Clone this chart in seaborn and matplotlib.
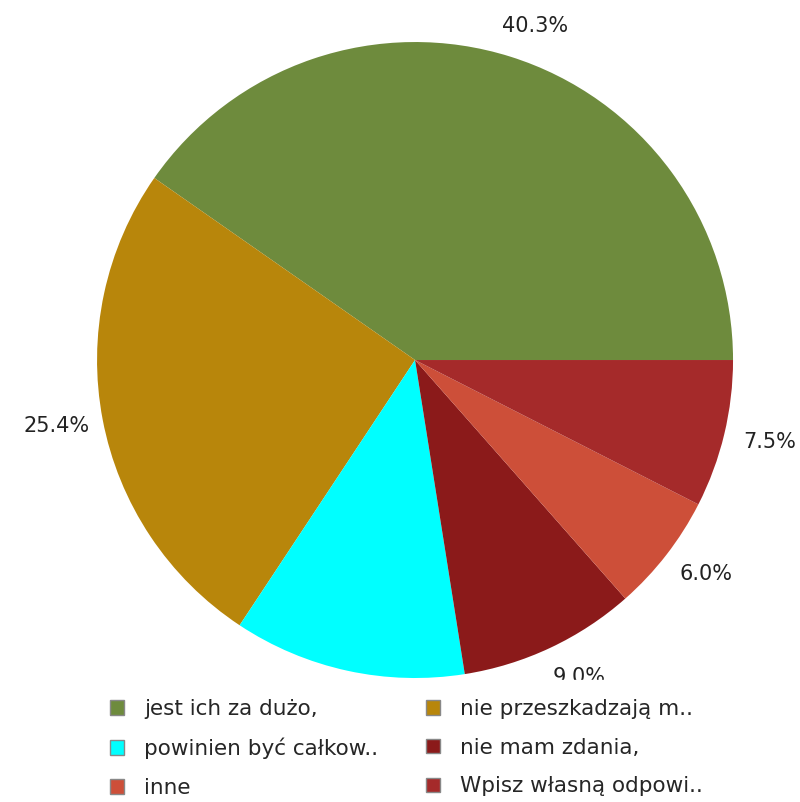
import matplotlib
matplotlib.use("Agg")
import matplotlib.pyplot as plt
import matplotlib.transforms as mtransforms
import seaborn as sns

sns.set_style("white")
plt.rcParams['font.family'] = ['DejaVu Sans']

categories = ["jest ich za dużo,", "nie przeszkadzają m..", "powinien być całkow..",
              "nie mam zdania,", "inne", "Wpisz własną odpowi.."]
values = [40.3, 25.4, 11.8, 9.0, 6.0, 7.5]
colors = ["#6E8B3D", "#B8860B", "#00FFFF", "#8B1A1A", "#CD4F39", "#A52A2A"]

pct_labels = [f"{v:.1f}%" for v in values]

fig = plt.figure(figsize=(8, 8.02), dpi=100)
ax = fig.add_axes([0.1213, 0.1546, 0.795, 0.793])
wedges, texts = ax.pie(values, colors=colors, labels=pct_labels, startangle=0,
                       counterclock=True, labeldistance=1.1,
                       wedgeprops={"linewidth": 0},
                       textprops={"fontsize": 15, "color": "#222222"})
# centre labels, nudged outward a bit
for t in texts:
    x, y = t.get_position()
    dx = 15 if x >= 0 else -15
    t.set_ha("center")
    t.set_transform(t.get_transform() + mtransforms.ScaledTranslation(dx / 100, 0, fig.dpi_scale_trans))
# the cyan slice's label sits under the legend in the original, not shown
texts[2].set_visible(False)
ax.set_xlim(-1, 1)
ax.set_ylim(-1, 1)
ax.set_aspect("equal")

order = [0, 2, 4, 1, 3, 5]
leg = fig.legend([wedges[i] for i in order], [categories[i] for i in order],
                 loc="upper left", bbox_to_anchor=(91 / 800, 1 - 680 / 802),
                 ncol=2, frameon=True, fontsize=15.5, handlelength=0.65, handleheight=0.65,
                 handletextpad=0.95, columnspacing=2.2, labelspacing=0.87,
                 borderaxespad=0, borderpad=0.88, fancybox=False)
leg.get_frame().set_facecolor("white")
leg.get_frame().set_edgecolor("white")
leg.get_frame().set_alpha(1)
leg.set_zorder(10)
for h in leg.legend_handles:
    h.set_edgecolor("#888888")
    h.set_linewidth(1)

fig.savefig("out.png", dpi=100, facecolor="white")
